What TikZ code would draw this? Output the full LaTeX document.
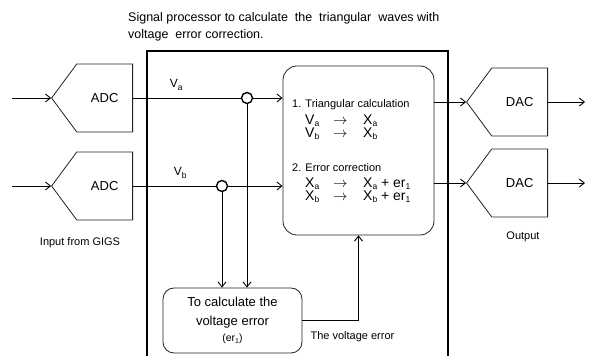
\documentclass[tikz,border=0pt]{standalone}
\usepackage{fontspec}
\setmainfont{Liberation Sans}
\usetikzlibrary{arrows.meta,shapes.symbols}
\definecolor{inkgrey}{HTML}{222222}

\begin{document}
\begin{tikzpicture}[
  x=1pt, y=-1pt,
  conv/.style={shape=signal, signal to=west, signal pointer angle=107,
               draw=inkgrey, line width=0.8pt, inner sep=0pt,
               minimum width=81pt, minimum height=68pt, font=\fontsize{13}{15}\selectfont},
  procbox/.style={draw=inkgrey, line width=0.8pt, rounded corners=14pt,
                  minimum width=151pt, minimum height=169pt},
  errbox/.style={draw=inkgrey, line width=0.8pt, rounded corners=11pt,
                 minimum width=139pt, minimum height=65pt, align=center,
                 font=\fontsize{13}{19}\selectfont},
  junc/.style={circle, draw=black, line width=1.4pt, fill=white,
               minimum size=11pt, inner sep=0pt},
  arr/.style={-{Straight Barb[length=5pt, width=8pt]}, line width=0.9pt},
  wire/.style={line width=0.9pt},
  frame/.style={line width=1.8pt},
  lbl/.style={font=\fontsize{11}{12}\selectfont, inner sep=0pt},
  stephead/.style={font=\fontsize{11}{13}\selectfont, inner sep=0pt, anchor=base west},
  maprow/.style={font=\fontsize{14}{15}\selectfont, inner sep=0pt, anchor=base west},
  sig/.style={font=\fontsize{12}{14}\selectfont, inner sep=0pt},
]
\useasboundingbox (0,0) rectangle (590,356);

\def\sub#1{\raisebox{-2.5pt}{\fontsize{8.5}{9}\selectfont #1}}
\def\maprowtext#1#2{\makebox[28pt][l]{#1}\makebox[30pt][l]{$\rightarrow$}#2}

% ---------------- heading --------------------------------------------
\node[lbl, anchor=base west, align=left, font=\fontsize{12.5}{17}\selectfont] (title) at (128,38)
  {Signal processor to calculate \ the \ triangular \ waves with\\
   voltage \ error correction.};

% ---------------- processor frame ------------------------------------
\draw[frame] (147,356) -- (147,51) -- (448,51) -- (448,356);

% ---------------- converters -----------------------------------------
\node[conv, anchor=east] (adca) at (133,98)  {ADC};
\node[conv, anchor=east] (adcb) at (133,186) {ADC};
\node[conv, anchor=east] (daca) at (548,102) {DAC};
\node[conv, anchor=east] (dacb) at (548,183) {DAC};

\coordinate (ina)  at (12,98);
\coordinate (inb)  at (12,186);
\coordinate (outa) at (585,102);
\coordinate (outb) at (585,183);

\node[lbl] (inlbl)  at (80,243)  {Input from GIGS};
\node[lbl] (outlbl) at (523,237) {Output};

% ---------------- processing blocks ----------------------------------
\node[procbox] (proc) at (358.5,150.5) {};

\node[stephead] (tri)  at (292,107) {1. Triangular calculation};
\node[maprow]   (trva) at (305,124) {\maprowtext{V\sub{a}}{X\sub{a}}};
\node[maprow]   (trvb) at (305,137) {\maprowtext{V\sub{b}}{X\sub{b}}};

\node[stephead] (cor)  at (292,171) {2. Error correction};
\node[maprow]   (coxa) at (305,187) {\maprowtext{X\sub{a}}{X\sub{a} + er\sub{1}}};
\node[maprow]   (coxb) at (305,200) {\maprowtext{X\sub{b}}{X\sub{b} + er\sub{1}}};

\node[errbox] (err) at (232.5,320.5)
  {To calculate the\\voltage error\\[-3pt]{\fontsize{10.5}{11}\selectfont(er{\fontsize{7}{8}\selectfont\raisebox{-1.5pt}{1}})}};

\node[junc] (ja) at (247,98)  {};
\node[junc] (jb) at (222,186) {};

% ---------------- signal paths ---------------------------------------
\draw[arr] (ina) -- (adca.west);
\draw[arr] (inb) -- (adcb.west);

\draw[wire] (adca.east) -- node[sig, above=7pt, pos=0.4] (va) {V\sub{a}} (ja.west);
\draw[wire] (adcb.east) -- node[sig, above=7pt, pos=0.57] (vb) {V\sub{b}} (jb.west);
\draw[arr] (ja.east) -- (ja -| proc.west);
\draw[arr] (jb.east) -- (jb -| proc.west);

\draw[arr] (ja.south) -- (ja |- err.north);
\draw[arr] (jb.south) -- (jb |- err.north);

% the error value goes back into the correction step
\draw[arr] (err.east) -| (proc.south);
\node[lbl, anchor=north west] (errlbl) at ([shift={(8,11)}]err.east) {The voltage error};

\draw[arr] (daca.west -| proc.east) -- (daca.west);
\draw[arr] (dacb.west -| proc.east) -- (dacb.west);
\draw[arr] (daca.east) -- (outa);
\draw[arr] (dacb.east) -- (outb);

\end{tikzpicture}
\end{document}
